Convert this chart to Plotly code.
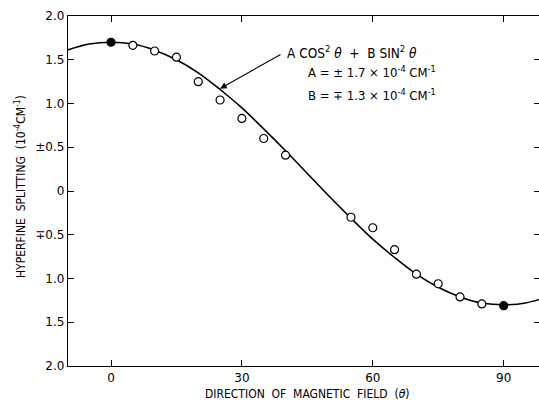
import plotly.graph_objects as go

# measured points (direction in degrees, splitting in 1e-4 cm^-1)
theta_open = [5, 10, 15, 20, 25, 30, 35, 40, 55, 60, 65, 70, 75, 80, 85]
split_open = [1.665, 1.60, 1.53, 1.25, 1.04, 0.83, 0.60, 0.41, -0.30, -0.42, -0.67, -0.95, -1.06, -1.21, -1.29]
theta_filled = [0, 90]
split_filled = [1.70, -1.31]

# fitted curve A cos^2 + B sin^2 as drawn
theta_curve = [-10, -5, 0, 5, 10, 15, 20, 25, 30, 35, 40, 45, 50, 55, 60, 65, 70, 75, 80, 85, 90, 95, 100]
split_curve = [1.61, 1.68, 1.70, 1.68, 1.61, 1.50, 1.35, 1.16, 0.95, 0.71, 0.46, 0.20, -0.06, -0.31,
               -0.55, -0.76, -0.95, -1.10, -1.21, -1.28, -1.30, -1.28, -1.21]

x_ticks = [0, 30, 60, 90]
x_ticklabels = ["0", "30", "60", "90"]
y_ticks = [2.0, 1.5, 1.0, 0.5, 0.0, -0.5, -1.0, -1.5, -2.0]
y_ticklabels = ["2.0", "1.5", "1.0", "\u00b10.5", "0", "\u22130.5", "1.0", "1.5", "2.0"]

FONT = "DejaVu Sans Condensed, DejaVu Sans, sans-serif"
TICKFONT = "DejaVu Sans, sans-serif"

fig = go.Figure()
fig.add_trace(go.Scatter(x=theta_curve, y=split_curve, mode="lines",
                         line=dict(color="black", width=1.6, shape="spline"),
                         showlegend=False, hoverinfo="skip"))
fig.add_trace(go.Scatter(x=theta_open, y=split_open, mode="markers",
                         marker=dict(symbol="circle", size=8, color="white",
                                     line=dict(color="black", width=1.2)),
                         showlegend=False))
fig.add_trace(go.Scatter(x=theta_filled, y=split_filled, mode="markers",
                         marker=dict(symbol="circle", size=8, color="black",
                                     line=dict(color="black", width=1.2)),
                         showlegend=False))
# invisible trace to activate right-side tick axis
fig.add_trace(go.Scatter(x=[0], y=[0], yaxis="y2", mode="markers",
                         marker=dict(opacity=0), showlegend=False, hoverinfo="skip"))

fig.update_layout(
    width=539, height=400,
    margin=dict(l=68, r=0, t=16, b=34, autoexpand=False),
    paper_bgcolor="white", plot_bgcolor="white",
    font=dict(family=FONT, color="black", size=12),
    xaxis=dict(range=[-9.86, 98.1], tickvals=x_ticks, ticktext=x_ticklabels,
               ticks="inside", ticklen=6, tickwidth=1.3, tickcolor="black",
               showline=True, linecolor="black", linewidth=1.3, mirror="ticks",
               showgrid=False, zeroline=False, automargin=False,
               tickfont=dict(size=12, family=TICKFONT)),
    yaxis=dict(range=[-2.0, 2.0], tickvals=y_ticks, ticktext=y_ticklabels,
               ticks="inside", ticklen=6, tickwidth=1.3, tickcolor="black",
               showline=True, linecolor="black", linewidth=1.3,
               showgrid=False, zeroline=False, automargin=False,
               tickfont=dict(size=12, family=TICKFONT)),
    yaxis2=dict(range=[-2.0, 2.0], overlaying="y", side="right", tickvals=y_ticks,
                ticks="inside", ticklen=5, tickwidth=1.3, tickcolor="black",
                showticklabels=False, showline=False, showgrid=False, zeroline=False,
                automargin=False),
)

# axis titles
fig.add_annotation(x=0.5074, y=-0.08, xref="paper", yref="paper",
                   xanchor="center", yanchor="middle", showarrow=False,
                   text="DIRECTION  OF  MAGNETIC  FIELD  (<i>\u03b8</i>)",
                   font=dict(size=12, family=FONT))
fig.add_annotation(x=-0.1019, y=0.5114, xref="paper", yref="paper",
                   xanchor="center", yanchor="middle", showarrow=False, textangle=-90,
                   text="HYPERFINE  SPLITTING  (10<sup>-4</sup>CM<sup>-1</sup>)",
                   font=dict(size=12, family=FONT))

# arrow from formula to the curve
fig.add_annotation(x=25, y=1.17, xref="x", yref="y", ax=62, ay=-35, text="",
                   showarrow=True, arrowhead=2, arrowsize=1.2, arrowwidth=1.1,
                   arrowcolor="black")

# formula text
fig.add_annotation(x=39.9, y=1.59, xref="x", yref="y", xanchor="left", yanchor="middle",
                   text="A COS<sup>2</sup> <i>\u03b8</i>  +  B SIN<sup>2</sup> <i>\u03b8</i>",
                   showarrow=False, font=dict(size=13.5, family=FONT))
fig.add_annotation(x=44.7, y=1.36, xref="x", yref="y", xanchor="left", yanchor="middle",
                   text="A = \u00b1 1.7 \u00d7 10<sup>-4</sup> CM<sup>-1</sup>",
                   showarrow=False, font=dict(size=13, family=FONT))
fig.add_annotation(x=44.7, y=1.10, xref="x", yref="y", xanchor="left", yanchor="middle",
                   text="B = \u2213 1.3 \u00d7 10<sup>-4</sup> CM<sup>-1</sup>",
                   showarrow=False, font=dict(size=13, family=FONT))

fig.write_html("out.html", config={"displayModeBar": False},
               post_script="document.body.style.margin='0';document.body.style.overflow='hidden';")
